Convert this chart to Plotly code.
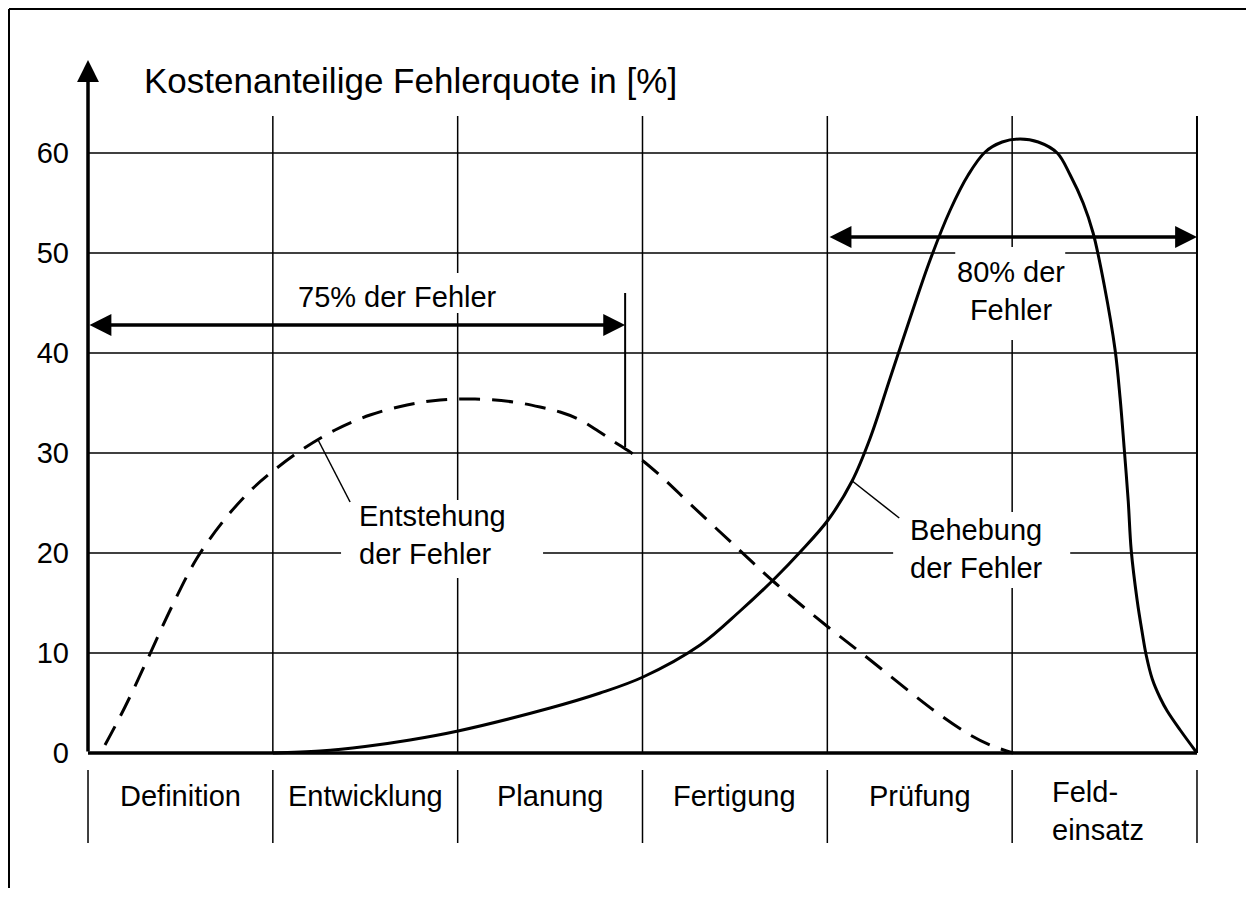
import plotly.graph_objects as go

# ---------------- data ----------------
phases = ["Definition", "Entwicklung", "Planung", "Fertigung", "Prüfung", "Feld-<br>einsatz"]
y_ticks = [0, 10, 20, 30, 40, 50, 60]

# "Entstehung der Fehler" (dashed)
entstehung_x = [0.092, 0.200, 0.325, 0.455, 0.590, 0.741, 0.877, 1.001, 1.163, 1.337, 1.526,
                1.726, 1.905, 2.094, 2.300, 2.446, 2.554, 2.652, 2.760, 2.841, 2.933, 3.003,
                3.122, 3.258, 3.501, 3.718, 4.004, 4.232, 4.448, 4.610, 4.773, 4.881, 5.005]
entstehung_y = [0.8, 4.6, 9.5, 14.7, 19.5, 23.4, 26.2, 28.2, 30.4, 32.3, 33.8,
                34.8, 35.3, 35.4, 35.1, 34.6, 34.1, 33.4, 32.2, 31.2, 30.1, 29.2,
                27.3, 24.9, 20.7, 17.0, 12.6, 9.3, 6.1, 3.8, 1.8, 0.8, 0.0]

# "Behebung der Fehler" (solid)
behebung_x = [1.0, 1.255, 1.499, 1.742, 2.002, 2.500, 2.771, 3.003, 3.312, 3.528, 3.718,
              3.853, 4.004, 4.134, 4.232, 4.340, 4.448, 4.556, 4.665, 4.762, 4.854,
              4.946, 5.043, 5.141, 5.244, 5.314, 5.384, 5.438, 5.498, 5.557, 5.584,
              5.606, 5.628, 5.644, 5.676, 5.704, 5.725, 5.758, 5.801, 5.839, 5.909, 6.0]
behebung_y = [0.0, 0.2, 0.65, 1.3, 2.2, 4.5, 6.0, 7.6, 10.8, 14.2, 17.5,
              20.1, 23.3, 27.2, 31.5, 37.5, 43.5, 49.3, 54.3, 57.8, 60.1,
              61.1, 61.4, 61.1, 60.0, 57.8, 55.0, 52.0, 46.8, 40.3, 35.5,
              30.5, 25.2, 20.3, 15.3, 12.0, 9.8, 7.4, 5.5, 4.2, 2.3, 0.0]

# ---------------- axes geometry ----------------
X_RANGE = [-0.0271, 6.0271]
Y_RANGE = [-0.5, 70]
FIG_W, FIG_H = 1246, 880
M_L, M_T, PLOT_W, PLOT_H = 75, 45, 1119, 705

def px(x):  # data x -> paper x
    return (x - X_RANGE[0]) / (X_RANGE[1] - X_RANGE[0])

def py(y):  # data y -> paper y
    return (y - Y_RANGE[0]) / (Y_RANGE[1] - Y_RANGE[0])

FONT = "Liberation Sans, Arial, sans-serif"
fig = go.Figure()

fig.add_trace(go.Scatter(x=entstehung_x, y=entstehung_y, mode="lines",
                         line=dict(color="black", width=3, dash="21px,12px", shape="spline", smoothing=1),
                         hoverinfo="skip", showlegend=False))
fig.add_trace(go.Scatter(x=behebung_x, y=behebung_y, mode="lines",
                         line=dict(color="black", width=3, shape="spline", smoothing=1),
                         hoverinfo="skip", showlegend=False))

shapes = []
grid_top = 63.7
for v in y_ticks[1:]:
    shapes.append(dict(type="line", xref="x", yref="y", x0=0, x1=6, y0=v, y1=v,
                       line=dict(color="black", width=1.5), layer="below"))
for i in range(1, len(phases) + 1):
    shapes.append(dict(type="line", xref="x", yref="y", x0=i, x1=i, y0=0, y1=grid_top,
                       line=dict(color="black", width=1.5 if i < 6 else 2), layer="below"))
# white gaps behind labels
for (x0, x1, y0, y1) in [(1.369, 2.462, 17.5, 25.3), (4.356, 5.314, 16.5, 24.1),
                         (4.692, 5.287, 41.3, 50.6), (1.09, 2.26, 44.0, 48.0)]:
    shapes.append(dict(type="rect", xref="x", yref="y", x0=x0, x1=x1, y0=y0, y1=y1,
                       fillcolor="white", line=dict(width=0), layer="below"))
# zero line
shapes.append(dict(type="line", xref="x", yref="y", x0=0, x1=6, y0=0, y1=0,
                   line=dict(color="black", width=3.5), layer="above"))
# category separators below the axis
for i in range(len(phases) + 1):
    shapes.append(dict(type="line", xref="paper", yref="paper", x0=px(i), x1=px(i),
                       y0=py(-1.7), y1=py(-9.0), line=dict(color="black", width=1.5)))
# 75% end marker
shapes.append(dict(type="line", xref="x", yref="y", x0=2.906, x1=2.906, y0=30.6, y1=46.0,
                   line=dict(color="black", width=2)))
# leader lines
shapes.append(dict(type="line", xref="x", yref="y", x0=1.245, y0=31.3, x1=1.418, y1=25.1,
                   line=dict(color="black", width=1.5)))
shapes.append(dict(type="line", xref="x", yref="y", x0=4.135, y0=27.2, x1=4.389, y1=23.5,
                   line=dict(color="black", width=1.5)))
# outer frame: top and left edges, kept within the figure
frame_left = (1 - M_L) / PLOT_W
frame_right = (FIG_W - M_L) / PLOT_W
frame_top = 1 + (M_T - 1) / PLOT_H
frame_bottom = -(FIG_H - M_T - PLOT_H) / PLOT_H
shapes.append(dict(type="line", xref="paper", yref="paper", x0=frame_left, x1=frame_right,
                   y0=frame_top, y1=frame_top, line=dict(color="black", width=2)))
shapes.append(dict(type="line", xref="paper", yref="paper", x0=frame_left, x1=frame_left,
                   y0=frame_bottom, y1=frame_top, line=dict(color="black", width=2)))

annotations = []
annotations.append(dict(x=0, y=69.3, ax=0, ay=0, xref="x", yref="y", axref="x", ayref="y",
                        text="", showarrow=True, arrowhead=2, arrowsize=1.25, arrowwidth=3.5,
                        arrowcolor="black", standoff=0))
annotations.append(dict(x=2.906, y=42.8, ax=0, ay=42.8, xref="x", yref="y", axref="x", ayref="y",
                        text="", showarrow=True, arrowside="end+start", arrowhead=2, startarrowhead=2,
                        arrowsize=1.25, startarrowsize=1.25, arrowwidth=3.5, arrowcolor="black",
                        standoff=0, startstandoff=0))
annotations.append(dict(x=6.0, y=51.6, ax=4.004, ay=51.6, xref="x", yref="y", axref="x", ayref="y",
                        text="", showarrow=True, arrowside="end+start", arrowhead=2, startarrowhead=2,
                        arrowsize=1.25, startarrowsize=1.25, arrowwidth=3.5, arrowcolor="black",
                        standoff=0, startstandoff=0))

def txt(x, y, s, xanchor="center", align="center", size=29):
    annotations.append(dict(x=px(x), y=py(y), xref="paper", yref="paper", text=s, showarrow=False,
                            xanchor=xanchor, yanchor="middle", align=align,
                            font=dict(family=FONT, size=size, color="black")))

txt(0.292, 67.2, "Kostenanteilige Fehlerquote in [%]", xanchor="left", align="left", size=35)
txt(1.677, 45.6, "75% der Fehler")
txt(4.994, 46.2, "80% der<br>Fehler")
txt(1.456, 21.8, "Entstehung<br>der Fehler", xanchor="left", align="left")
txt(4.437, 20.4, "Behebung<br>der Fehler", xanchor="left", align="left")

for i, p in enumerate(phases):
    if "<br>" in p:
        txt(i + 0.462, -5.75, p, align="left")
    else:
        txt(i + 0.5, -4.3, p)

# page body has an 8px margin -> figure placed at (8, 8); keep page within the window
fig.update_layout(
    width=FIG_W, height=FIG_H,
    margin=dict(l=M_L, r=FIG_W - M_L - PLOT_W, t=M_T, b=FIG_H - M_T - PLOT_H, pad=0),
    paper_bgcolor="white", plot_bgcolor="white",
    shapes=shapes, annotations=annotations,
    showlegend=False,
    xaxis=dict(range=X_RANGE, showgrid=False, zeroline=False, showticklabels=False,
               ticks="", showline=False, fixedrange=True),
    yaxis=dict(range=Y_RANGE, tickvals=y_ticks, ticktext=[str(v) for v in y_ticks],
               showgrid=False, zeroline=False, showline=False, ticks="",
               ticklabelstandoff=13,
               tickfont=dict(family=FONT, size=29, color="black"), fixedrange=True),
)

fig.write_html("out.html")
